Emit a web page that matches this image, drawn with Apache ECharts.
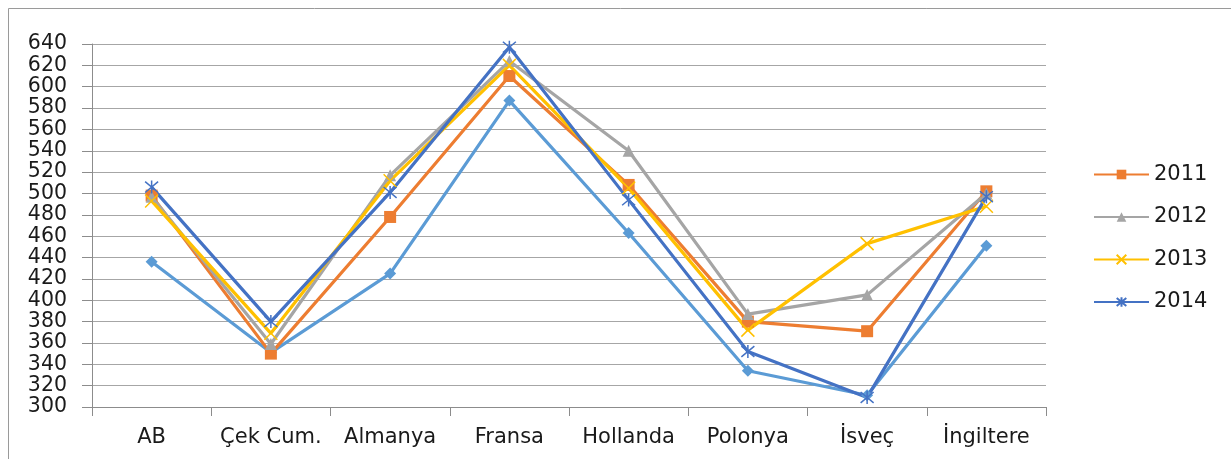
<!DOCTYPE html>
<html><head><meta charset="utf-8">
<script src="https://cdn.jsdelivr.net/npm/echarts@6/dist/echarts.min.js"></script>
<style>html,body{margin:0;padding:0;background:#fff}#c{width:1231px;height:459px}</style>
</head><body><div id="c"></div>
<script>
const categories = ['AB','Çek Cum.','Almanya','Fransa','Hollanda','Polonya','İsveç','İngiltere'];
const yTicks = {min:300, max:640, interval:20};
const s2010 = [436, 351, 425, 587, 463, 334, 311, 451];
const s2011 = [498, 350, 478, 610, 508, 380, 371, 502];
const s2012 = [497, 359, 517, 624, 540, 387, 405, 500];
const s2013 = [493, 369, 512, 620, 505, 372, 453, 488];
const s2014 = [506, 380, 501, 637, 494, 352, 309, 497];
const legendNames = ['2011','2012','2013','2014'];

const FONT = 'DejaVu Sans';
const chart = echarts.init(document.getElementById('c'));
const xPath = 'path://M0,0 L10,10 M10,0 L0,10';
const starPath = 'path://M0,0 L10,10 M10,0 L0,10 M5,-1 L5,11';
function mk(name, data, color, symbol, size, markerColor, border) {
  return {
    name, type:'line', data, symbol, symbolSize:size, showSymbol:true,
    lineStyle:{color, width:3.2},
    itemStyle: border ? {color:'rgba(0,0,0,0)', borderColor:markerColor, borderWidth:1.5} : {color:markerColor},
    emphasis:{disabled:true}, animation:false
  };
}
chart.setOption({
  animation:false,
  textStyle:{fontFamily:FONT},
  graphic:[{type:'rect', shape:{x:8.5,y:8.5,width:1300,height:500}, style:{fill:'none', stroke:'#9a9a9a', lineWidth:1}, silent:true}],
  grid:{left:92, right:185, top:44, bottom:52, containLabel:false},
  legend:{
    data:legendNames, orient:'vertical', left:1093, top:164, padding:0, itemWidth:55, itemHeight:12, itemGap:21.5,
    textStyle:{fontFamily:FONT, fontSize:21, color:'#1a1a1a', padding:[0,0,0,0]}
  },
  xAxis:{
    type:'category', data:categories, boundaryGap:true,
    axisLine:{lineStyle:{color:'#8c8c8c', width:1}},
    axisTick:{show:true, length:9, lineStyle:{color:'#8c8c8c'}},
    axisLabel:{fontFamily:FONT, fontSize:21, color:'#1a1a1a', margin:20, interval:0, hideOverlap:false}
  },
  yAxis:{
    type:'value', min:yTicks.min, max:yTicks.max, interval:yTicks.interval,
    axisLine:{show:true, lineStyle:{color:'#8c8c8c', width:1}},
    axisTick:{show:true, length:10, lineStyle:{color:'#8c8c8c'}},
    axisLabel:{fontFamily:FONT, fontSize:20.5, color:'#1a1a1a', margin:25, hideOverlap:false, showMinLabel:true, showMaxLabel:true},
    splitLine:{lineStyle:{color:'#a6a6a6', width:1}}
  },
  series:[
    mk('2010', s2010, '#5B9BD5', 'diamond', 12, '#5B9BD5', false),
    mk('2011', s2011, '#ED7D31', 'rect', 12, '#ED7D31', false),
    mk('2012', s2012, '#A5A5A5', 'triangle', 12, '#A5A5A5', false),
    mk('2013', s2013, '#FFC000', xPath, 13, '#FFC000', true),
    mk('2014', s2014, '#4472C4', starPath, 13, '#4472C4', true)
  ]
});
</script></body></html>
